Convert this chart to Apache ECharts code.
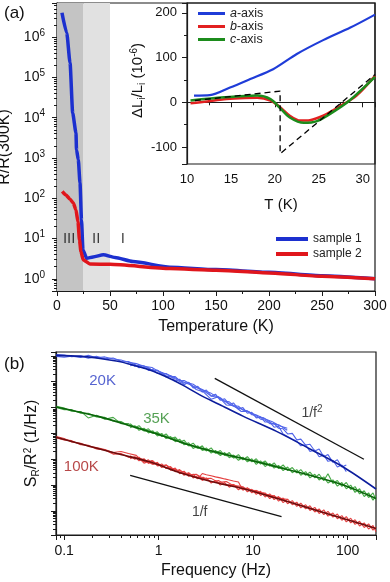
<!DOCTYPE html>
<html>
<head>
<meta charset="utf-8">
<script src="https://cdn.jsdelivr.net/npm/echarts@6/dist/echarts.min.js"></script>
<style>
  html, body { margin: 0; padding: 0; background: #fff; }
  #chart { width: 390px; height: 582px; }
</style>
</head>
<body>
<div id="chart"></div>
<script>
  // ---- (a) R/R(300K) vs temperature ----
  const tempS1 = [4.7, 9.2, 12.3, 14.8, 17.9, 18.4, 20.1, 21.7, 23.1, 24.5, 28, 34, 43.7, 54.7, 71.7, 106.6, 150, 200, 250, 300]
  const ratioS1 = [4.0e6, 1.26e6, 2.3e5, 1.3e4, 4.2e3, 1.6e3, 900, 240, 29, 5.2, 3.25, 3.5, 3.97, 3.4, 2.69, 1.95, 1.70, 1.45, 1.19, 1.0]
  const tempS2 = [5, 8.5, 12.3, 15.4, 17.9, 19.8, 21.2, 22.6, 24.8, 31.1, 50, 106.6, 150, 200, 250, 300]
  const ratioS2 = [148, 120, 95, 76, 51, 26, 9.3, 4.7, 2.95, 2.34, 2.29, 1.80, 1.64, 1.40, 1.16, 1.0]
  const shadeBounds = [0, 25, 50]
  const regionNames = ['III', 'II', 'I']
  const regionT = [11.5, 37, 62]

  // ---- (a) inset: thermal expansion dL/L (1e-6) ----
  const aAxisT = [10.8, 12.6, 14.9, 17.2, 19.8, 22.5, 25.5, 28.6, 31.4]
  const aAxisDL = [15, 16, 33, 52, 74, 108, 139, 167, 196]
  const bAxisT = [10.4, 12.3, 14.2, 16.0, 18.0, 19.5, 20.6, 21.7, 22.9, 24.0, 25.5, 27.4, 29.3, 31.4]
  const bAxisDL = [-2, 2, 7, 9, 10, 4, -11, -30, -41, -40, -30, -9, 15, 59]
  const cAxisT = [10.4, 14.2, 18.0, 19.5, 20.6, 21.7, 23.3, 24.8, 26.6, 28.5, 31.4]
  const cAxisDL = [4, 11, 15, 7, -13, -34, -46, -42, -22, 4, 57]
  const dashT = [10.9, 20.6, 20.6, 31.4]
  const dashDL = [4, 25, -115, 62]

  // ---- (b) noise spectra, values are log10(S_R/R^2) ----
  const freqLo = [0.083, 0.1, 0.12, 0.15, 0.18, 0.22, 0.27, 0.33, 0.4, 0.48, 0.58, 0.7, 0.85, 1.0, 1.2, 1.45, 1.75, 2.1, 2.5, 3.0, 3.6, 4.3, 5.2, 6.2, 7.5, 9.0, 11, 13, 16, 19, 23]
  const freqHi = [0.5, 0.56, 0.62, 0.7, 0.78, 0.87, 0.97, 1.08, 1.2, 1.34, 1.5, 1.67, 1.86, 2.08, 2.32, 2.6, 2.9, 3.2, 3.6, 4.0, 4.5, 5.0, 5.6, 6.2, 7.0, 7.8, 8.7, 9.7, 10.8, 12, 13.4, 15, 16.7, 18.6, 20.8, 23.2, 26, 29, 32, 36, 40, 45, 50, 56, 62, 70, 78, 87, 97, 108, 120, 134, 150, 167, 186, 200]

  const lo20K_1 = [-4.02, -4.05, -4.01, -4.06, -3.98, -4.07, -4.04, -4.12, -4.16, -4.25, -4.30, -4.40, -4.45, -4.60, -4.70, -4.82, -4.98, -5.10, -5.22, -5.35, -5.55, -5.62, -5.80, -5.95, -6.05, -6.18, -6.30, -6.42, -6.55, -6.70, -6.80]
  const lo20K_2 = [-3.95, -3.97, -4.03, -4.00, -4.09, -4.02, -4.11, -4.08, -4.21, -4.22, -4.36, -4.38, -4.55, -4.58, -4.77, -4.85, -5.05, -5.05, -5.30, -5.40, -5.68, -5.58, -5.90, -5.92, -6.15, -6.15, -6.38, -6.40, -6.62, -6.68, -6.88]
  const hi20K_1 = [-4.30, -4.40, -4.36, -4.48, -4.46, -4.58, -4.55, -4.70, -4.68, -4.80, -4.80, -4.96, -4.95, -5.05, -5.10, -5.22, -5.30, -5.38, -5.45, -5.55, -5.62, -5.75, -5.78, -5.92, -5.95, -6.10, -6.12, -6.28, -6.30, -6.45, -6.48, -6.62, -6.62, -6.80, -6.82, -7.02, -7.00, -7.25, -7.22, -7.45, -7.42, -7.68, -7.60, -7.90, -7.82, -8.12, -8.02, -8.30, -8.22, null, null, null, null, null, null, null]
  const hi20K_2 = [-4.38, -4.34, -4.46, -4.42, -4.56, -4.52, -4.68, -4.64, -4.82, -4.76, -4.98, -4.90, -5.12, -5.02, -5.24, -5.18, -5.40, -5.32, -5.56, -5.48, -5.72, -5.66, -5.88, -5.82, -6.06, -6.00, -6.22, -6.18, -6.40, -6.36, -6.56, -6.56, -6.76, -6.72, -7.02, -7.12, -7.22, -7.30, -7.48, -7.44, -7.70, -7.64, -7.90, -7.84, -8.08, -8.04, -8.30, -8.22, -8.48, null, null, null, null, null, null, null]
  const fit20KFreq = [0.082, 0.15, 0.24, 0.37, 0.53, 0.75, 1.0, 1.4, 1.8, 2.7, 4.4, 7.8, 17.7, 40, 90, 200]
  const fit20K = [-3.98, -4.02, -4.10, -4.21, -4.35, -4.51, -4.68, -4.92, -5.13, -5.50, -5.88, -6.33, -6.92, -7.60, -8.30, -9.15]

  const lo35K_1 = [-5.95, -6.02, -6.14, -6.15, -6.40, -6.30, -6.45, -6.38, -6.62, -6.62, -6.80, -6.82, -6.98, -7.00, -7.15, -7.18, -7.38, -7.42, -7.55, -7.58, -7.72, -7.70, -7.86, -7.85, -7.98, -8.00, -8.12, -8.12, -8.28, -8.28, -8.40]
  const lo35K_2 = [-6.00, -6.08, -6.08, -6.22, -6.22, -6.36, -6.38, -6.52, -6.54, -6.70, -6.74, -6.90, -6.92, -7.08, -7.10, -7.26, -7.30, -7.48, -7.50, -7.64, -7.66, -7.80, -7.80, -7.94, -7.93, -8.06, -8.06, -8.20, -8.20, -8.34, -8.35]
  const hi35K_1 = [-6.62, -6.78, -6.70, -6.90, -6.82, -7.00, -6.94, -7.12, -7.02, -7.22, -7.14, -7.34, -7.26, -7.48, -7.38, -7.58, -7.48, -7.68, -7.56, -7.77, -7.66, -7.86, -7.74, -7.95, -7.82, -8.02, -7.90, -8.10, -7.98, -8.19, -8.06, -8.27, -8.14, -8.36, -8.22, -8.44, -8.32, -8.53, -8.40, -8.62, -8.50, -8.72, -8.58, -8.83, -8.56, -8.94, -8.82, -9.05, -8.90, -9.17, -9.06, -9.34, -9.22, -9.48, -9.30, -9.58]
  const hi35K_2 = [-6.78, -6.70, -6.88, -6.80, -6.98, -6.90, -7.10, -7.00, -7.20, -7.12, -7.32, -7.22, -7.44, -7.36, -7.58, -7.48, -7.66, -7.56, -7.76, -7.66, -7.86, -7.74, -7.94, -7.84, -8.04, -7.92, -8.10, -7.98, -8.20, -8.06, -8.28, -8.16, -8.34, -8.24, -8.44, -8.30, -8.52, -8.40, -8.62, -8.48, -8.72, -8.58, -8.80, -8.68, -8.92, -8.80, -9.04, -8.90, -9.14, -9.00, -9.28, -9.14, -9.44, -9.30, -9.58, -9.40]
  const fit35KFreq = [0.082, 0.24, 0.53, 1.0, 2.1, 4.4, 7.8, 17.7, 40, 90, 200]
  const fit35K = [-5.98, -6.36, -6.73, -7.04, -7.44, -7.76, -7.97, -8.29, -8.62, -9.00, -9.52]

  const lo100K_1 = [-7.12, -7.20, -7.33, -7.38, -7.50, -7.55, -7.62, -7.74, -7.70, -7.78, -7.85, -8.15, -8.05, -8.25, -8.22, -8.40, -8.46, -8.60, -8.58, -8.75, -8.74, -8.90, -8.86, -9.02, -9.05, -9.18, -9.22, -9.35, -9.40, -9.52, -9.55]
  const lo100K_2 = [-7.18, -7.25, -7.28, -7.44, -7.46, -7.60, -7.64, -7.80, -7.78, -7.92, -7.92, -8.02, -8.18, -8.18, -8.34, -8.36, -8.55, -8.54, -8.72, -8.70, -8.88, -8.82, -9.00, -8.98, -9.15, -9.14, -9.30, -9.30, -9.48, -9.48, -9.64]
  const hi100K_1 = [-7.86, -8.00, -7.92, -8.10, -8.02, -8.20, -8.12, -8.32, -8.22, -8.42, -8.34, -8.56, -8.46, -8.66, -8.58, -8.76, -8.55, -8.60, -8.64, -8.68, -8.72, -8.76, -8.80, -8.84, -8.88, -9.20, -9.10, -9.30, -9.20, -9.40, -9.30, -9.52, -9.40, -9.62, -9.50, -9.72, -9.60, -9.82, -9.70, -9.92, -9.80, -10.04, -9.92, -10.14, -10.02, -10.24, -10.12, -10.36, -10.22, -10.46, -10.34, -10.58, -10.46, -10.70, -10.56, -10.80]
  const hi100K_2 = [-7.98, -7.90, -8.06, -7.98, -8.16, -8.06, -8.26, -8.18, -8.36, -8.28, -8.48, -8.40, -8.62, -8.52, -8.72, -8.64, -8.82, -8.72, -8.92, -8.82, -9.00, -8.90, -9.08, -8.98, -9.18, -9.06, -9.26, -9.16, -9.36, -9.24, -9.46, -9.34, -9.56, -9.44, -9.68, -9.54, -9.76, -9.66, -9.88, -9.76, -9.98, -9.86, -10.10, -9.96, -10.20, -10.08, -10.30, -10.18, -10.42, -10.28, -10.52, -10.40, -10.64, -10.50, -10.74, -10.62]
  const fit100KFreq = [0.082, 0.36, 0.8, 1.8, 4.1, 7.8, 17.7, 40, 90, 200]
  const fit100K = [-7.15, -7.78, -8.10, -8.55, -8.91, -9.13, -9.51, -9.90, -10.29, -10.68]

  const slopeF2Freq = [3.93, 149]
  const slopeF2 = [-4.87, -8.0]
  const slopeF1Freq = [0.5, 20]
  const slopeF1 = [-8.62, -10.22]

  const labelNames = ['20K', '35K', '100K', '1/f{sup|2}', '1/f']
  const labelFreq = [0.255, 0.95, 0.152, 42, 2.72]
  const labelLog = [-4.95, -6.42, -8.29, -6.23, -10.03]
  const labelColors = ['#2b3cc4', '#2a8a2a', '#a51a1a', '#111', '#111']

  const FONT = 'Liberation Sans, Arial, sans-serif'
  const INK = '#1a1a1a'

  const pairs = (xs, ys) => xs.map((x, i) => [x, ys[i]])
  const logPairs = (xs, ys) => xs.map((x, i) => [x, ys[i] === null ? '-' : Math.pow(10, ys[i])])

  const lineAxis = {
    axisLine: {show: true, lineStyle: {color: INK, width: 1.2}},
    axisTick: {show: true, length: 5, lineStyle: {color: INK, width: 1}},
    minorTick: {show: true, length: 3, lineStyle: {color: INK, width: 1}},
    splitLine: {show: false},
  }

  function axis(extra) {
    return Object.assign({}, lineAxis, extra)
  }

  function trace(name, xi, xs, ys, color, width, z) {
    return {
      name: name,
      type: 'line',
      xAxisIndex: xi,
      yAxisIndex: xi,
      data: xi === 2 ? logPairs(xs, ys) : pairs(xs, ys),
      showSymbol: false,
      symbol: 'none',
      color: color,
      lineStyle: {color: color, width: width},
      z: z || 2,
      silent: true
    }
  }

  const supRich = {sup: {fontSize: 10, padding: [0, 0, 8, 0]}, sub: {fontSize: 10, padding: [8, 0, 0, 0]}}

  const lightBlue = '#5064ea', lightGreen = '#45a845', lightRed = '#e54040'

  const series = [
    {
      name: 'shade',
      type: 'line',
      xAxisIndex: 0,
      yAxisIndex: 0,
      data: [],
      z: 0,
      markArea: {
        silent: true,
        data: [
          [{xAxis: shadeBounds[0], itemStyle: {color: '#c4c4c4'}}, {xAxis: shadeBounds[1]}],
          [{xAxis: shadeBounds[1], itemStyle: {color: '#e1e1e1'}}, {xAxis: shadeBounds[2]}]
        ]
      }
    },
    Object.assign(trace('sample 1', 0, tempS1, ratioS1, '#1c30cf', 3.5, 3), {smooth: 0.2, smoothMonotone: 'x'}),
    Object.assign(trace('sample 2', 0, tempS2, ratioS2, '#e0161c', 3.5, 4), {smooth: 0.2, smoothMonotone: 'x'}),
    {
      name: 'regions',
      type: 'scatter',
      xAxisIndex: 0,
      yAxisIndex: 0,
      symbolSize: 0,
      silent: true,
      data: regionT.map((t, i) => ({value: [t, 10], name: regionNames[i]})),
      label: {show: true, position: 'inside', formatter: '{b}', fontFamily: FONT, fontSize: 15, color: '#111'},
      z: 5
    },
    Object.assign(trace('a-axis', 1, aAxisT, aAxisDL, '#1f3cd8', 2.2, 3), {smooth: 0.3}),
    Object.assign(trace('b-axis', 1, bAxisT, bAxisDL, '#e22020', 2.5, 3), {smooth: 0.3}),
    Object.assign(trace('c-axis', 1, cAxisT, cAxisDL, '#1c8c1c', 2.5, 4), {smooth: 0.3}),
    {
      name: 'guide',
      type: 'line',
      xAxisIndex: 1,
      yAxisIndex: 1,
      data: pairs(dashT, dashDL),
      symbol: 'none',
      silent: true,
      lineStyle: {color: '#000', width: 1.3, type: [6, 4]},
      z: 5
    },

    trace('n20a', 2, freqLo, lo20K_1, lightBlue, 1.1, 2),
    trace('n20b', 2, freqLo, lo20K_2, lightBlue, 1.1, 2),
    trace('n20c', 2, freqHi, hi20K_1, lightBlue, 1.1, 2),
    trace('n20d', 2, freqHi, hi20K_2, lightBlue, 1.1, 2),
    trace('n35a', 2, freqLo, lo35K_1, lightGreen, 1.1, 2),
    trace('n35b', 2, freqLo, lo35K_2, lightGreen, 1.1, 2),
    trace('n35c', 2, freqHi, hi35K_1, lightGreen, 1.1, 2),
    trace('n35d', 2, freqHi, hi35K_2, lightGreen, 1.1, 2),
    trace('n100a', 2, freqLo, lo100K_1, lightRed, 1.1, 2),
    trace('n100b', 2, freqLo, lo100K_2, lightRed, 1.1, 2),
    trace('n100c', 2, freqHi, hi100K_1, lightRed, 1.1, 2),
    trace('n100d', 2, freqHi, hi100K_2, lightRed, 1.1, 2),
    Object.assign(trace('f20', 2, fit20KFreq, fit20K, '#0c1d9c', 1.6, 3), {smooth: 0.3}),
    Object.assign(trace('f35', 2, fit35KFreq, fit35K, '#0a640a', 1.6, 3), {smooth: 0.3}),
    Object.assign(trace('f100', 2, fit100KFreq, fit100K, '#6e0c0c', 1.6, 3), {smooth: 0.3}),
    trace('s2', 2, slopeF2Freq, slopeF2, '#111', 1.3, 3),
    trace('s1', 2, slopeF1Freq, slopeF1, '#111', 1.3, 3),
    {
      name: 'labels',
      type: 'scatter',
      xAxisIndex: 2,
      yAxisIndex: 2,
      symbolSize: 0,
      silent: true,
      z: 6,
      data: labelNames.map((n, i) => ({
        value: [labelFreq[i], Math.pow(10, labelLog[i])],
        name: n,
        label: {color: labelColors[i], fontSize: i < 3 ? 15 : 14}
      })),
      label: {show: true, position: 'inside', formatter: '{b}', fontFamily: FONT, rich: supRich}
    }
  ]

  const chart = echarts.init(document.getElementById('chart'))
  chart.setOption({
    animation: false,
    backgroundColor: '#fff',
    textStyle: {fontFamily: FONT},
    grid: [
      {left: 57, top: 3, width: 318, height: 288, show: true, borderColor: INK, borderWidth: 1.2, outerBoundsMode: 'none'},
      {left: 187, top: 3, width: 188, height: 161, show: true, borderColor: INK, borderWidth: 1.2, outerBoundsMode: 'none'},
      {left: 56, top: 352, width: 320, height: 183, show: true, borderColor: INK, borderWidth: 1.2, outerBoundsMode: 'none'}
    ],
    graphic: [
      {type: 'text', left: 4, top: 5, style: {text: '(a)', fontSize: 17, fontFamily: FONT, fill: '#111'}},
      {type: 'text', left: 4, top: 356, style: {text: '(b)', fontSize: 17, fontFamily: FONT, fill: '#111'}}
    ],
    legend: [
      {
        data: ['sample 1', 'sample 2'],
        orient: 'vertical', left: 271, top: 228,
        itemWidth: 32, itemHeight: 4, itemGap: 3, icon: 'rect',
        textStyle: {fontSize: 12, color: '#222', fontFamily: FONT}
      },
      {
        data: ['a-axis', 'b-axis', 'c-axis'],
        orient: 'vertical', left: 193, top: 2,
        itemWidth: 27, itemHeight: 3, itemGap: 0, icon: 'rect',
        formatter: n => '{i|' + n.charAt(0) + '}' + n.slice(1),
        textStyle: {fontSize: 12.5, color: '#222', fontFamily: FONT, rich: {i: {fontStyle: 'italic', fontSize: 12.5}}}
      }
    ],
    xAxis: [
      axis({
        gridIndex: 0, type: 'value', min: 0, max: 300, interval: 50,
        minorTick: Object.assign({}, lineAxis.minorTick, {splitNumber: 2}),
        axisLabel: {fontSize: 14, color: '#111', margin: 8},
        name: 'Temperature (K)', nameLocation: 'middle', nameGap: 28,
        nameTextStyle: {fontSize: 16, color: '#111'}
      }),
      axis({
        gridIndex: 1, type: 'value', min: 10, max: 31.4, interval: 5,
        minorTick: Object.assign({}, lineAxis.minorTick, {splitNumber: 2}),
        axisLabel: {fontSize: 13, color: '#111', margin: 9, showMaxLabel: false},
        name: 'T (K)', nameLocation: 'middle', nameGap: 33,
        nameTextStyle: {fontSize: 15, color: '#111'}
      }),
      axis({
        gridIndex: 2, type: 'log', logBase: 10, min: 0.082, max: 200,
        minorTick: Object.assign({}, lineAxis.minorTick, {splitNumber: 9}),
        axisLabel: {fontSize: 14, color: '#111', margin: 9, showMinLabel: false, showMaxLabel: false},
        name: 'Frequency (Hz)', nameLocation: 'middle', nameGap: 28,
        nameTextStyle: {fontSize: 16, color: '#111'}
      })
    ],
    yAxis: [
      axis({
        gridIndex: 0, type: 'log', logBase: 10, min: 0.5, max: 7e6,
        minorTick: Object.assign({}, lineAxis.minorTick, {splitNumber: 9}),
        axisLabel: {
          fontSize: 14, color: '#111', margin: 12, showMinLabel: false, showMaxLabel: false,
          formatter: v => '10{sup|' + Math.round(Math.log10(v)) + '}',
          rich: supRich
        },
        name: 'R/R(300K)', nameLocation: 'middle', nameGap: 37, nameRotate: 90,
        nameTextStyle: {fontSize: 16, color: '#111'}
      }),
      axis({
        gridIndex: 1, type: 'value', min: -138, max: 222,
        minorTick: Object.assign({}, lineAxis.minorTick, {splitNumber: 2}),
        axisLabel: {fontSize: 13, color: '#111', margin: 10, showMinLabel: false, showMaxLabel: false},
        name: '{n|ΔL}{sub|i}{n|/L}{sub|i}{n| (10}{sup|-6}{n|)}', nameLocation: 'middle', nameGap: 40, nameRotate: 90,
        nameTextStyle: {fontSize: 15, color: '#111', padding: [0, 0, 0, 6], rich: Object.assign({n: {fontSize: 15}}, supRich)}
      }),
      axis({
        gridIndex: 2, type: 'log', logBase: 10, min: Math.pow(10, -10.93), max: Math.pow(10, -3.85),
        minorTick: Object.assign({}, lineAxis.minorTick, {splitNumber: 9}),
        axisLabel: {show: false},
        name: '{n|S}{sub|R}{n|/R}{sup|2}{n| (1/Hz)}', nameLocation: 'middle', nameGap: 15, nameRotate: 90,
        nameTextStyle: {fontSize: 16, color: '#111', rich: Object.assign({n: {fontSize: 16}}, supRich)}
      })
    ],
    series: series
  })
</script>
</body>
</html>
